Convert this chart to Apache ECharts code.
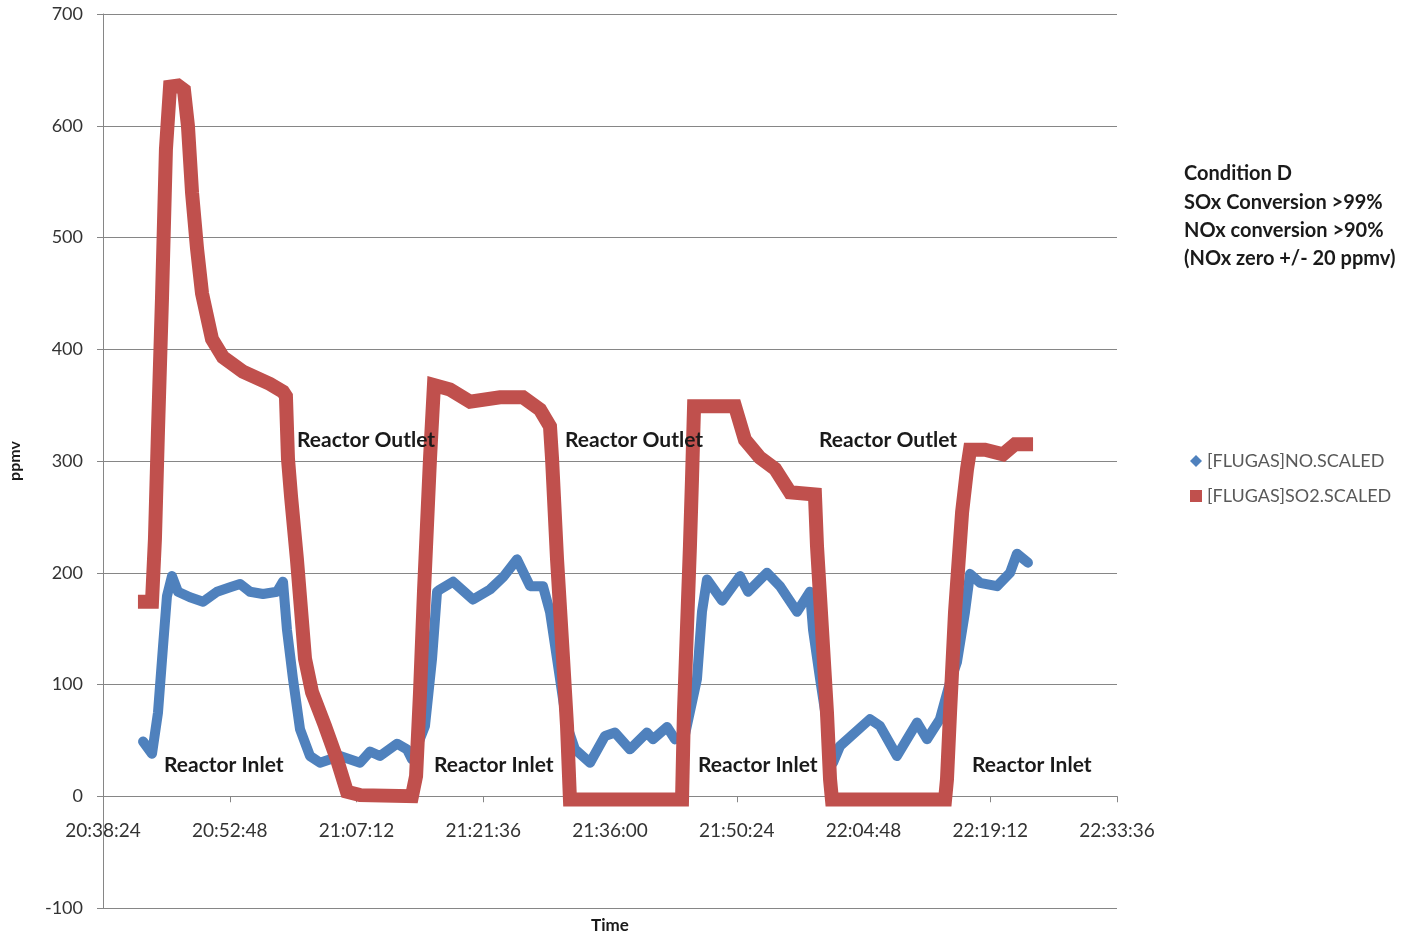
<!DOCTYPE html>
<html>
<head>
<meta charset="utf-8">
<title>Condition D – NO / SO2</title>
<script src="https://cdn.jsdelivr.net/npm/echarts@6/dist/echarts.min.js"></script>
<style>
  html, body { margin: 0; padding: 0; background: #ffffff; }
  #chart { width: 1410px; height: 935px; }
</style>
</head>
<body>
<div id="chart"></div>
<script>
// ---- data -------------------------------------------------------------
// [FLUGAS]NO.SCALED (ppmv)
const noTimes = [
  '20:42:57','20:43:58','20:44:39','20:45:13','20:45:40','20:46:14','20:46:55','20:48:17',
  '20:49:46','20:51:21','20:52:50','20:53:58','20:55:06','20:56:35','20:58:10','20:58:51',
  '20:59:18','20:59:59','21:00:47','21:01:55','21:03:03','21:05:20','21:07:36','21:08:44',
  '21:09:52','21:11:48','21:12:56','21:13:30','21:14:59','21:15:47','21:16:21','21:16:41',
  '21:18:10','21:20:26','21:22:22','21:23:51','21:25:26','21:26:55','21:28:23','21:29:11',
  '21:29:59','21:31:07','21:32:01','21:33:44','21:35:26','21:36:34','21:38:16','21:40:12',
  '21:40:53','21:42:29','21:43:23','21:44:31','21:45:53','21:46:27','21:47:01','21:48:44',
  '21:50:46','21:51:41','21:53:50','21:55:19','21:57:15','21:58:43','21:59:04','21:59:52',
  '22:01:20','22:02:08','22:05:32','22:06:40','22:08:36','22:10:53','22:12:01','22:13:29',
  '22:14:38','22:15:25','22:16:20','22:16:54','22:18:02','22:19:58','22:21:27','22:22:14',
  '22:23:29'
];
const noValues = [
  49, 38, 75, 134, 179, 197, 183, 178,
  174, 183, 187, 190, 183, 181, 183, 192,
  149, 105, 60, 36, 30, 36, 30, 40,
  36, 47, 42, 33, 63, 123, 183, 185,
  192, 176, 185, 196, 212, 188, 188, 165,
  123, 63, 42, 30, 54, 57, 42, 57,
  51, 62, 51, 55, 105, 165, 194, 175,
  197, 183, 200, 188, 165, 183, 149, 105,
  30, 45, 69, 63, 36, 66, 51, 69,
  102, 120, 165, 199, 191, 188, 200, 217,
  209
];

// [FLUGAS]SO2.SCALED (ppmv)
const so2Times = [
  '20:43:10','20:43:58','20:44:18','20:44:39','20:45:06','20:45:33','20:46:01','20:46:55',
  '20:47:36','20:48:03','20:48:31','20:49:05','20:49:39','20:50:47','20:52:02','20:54:18',
  '20:57:22','20:58:51','20:59:11','20:59:25','20:59:46','21:00:26','21:01:21','21:02:09',
  '21:03:37','21:04:59','21:06:07','21:07:36','21:13:30','21:13:58','21:14:25','21:14:52',
  '21:15:33','21:16:00','21:17:49','21:20:06','21:23:30','21:26:07','21:28:03','21:29:11',
  '21:29:25','21:29:59','21:30:40','21:31:07','21:31:27','21:44:11','21:44:24','21:45:05',
  '21:45:19','21:45:33','21:50:12','21:51:20','21:53:02','21:54:45','21:56:27','21:59:17',
  '21:59:31','22:00:12','22:00:39','22:01:00','22:01:13','22:14:04','22:14:17','22:14:38',
  '22:15:12','22:16:00','22:16:34','22:16:54','22:18:36','22:20:39','22:22:01','22:23:16'
];
const so2Values = [
  174, 174, 230, 328, 445, 579, 635, 636,
  632, 600, 540, 490, 450, 409, 393, 380,
  369, 362, 358, 302, 268, 212, 123, 93,
  63, 33, 4, 1, 0, 18, 93, 183,
  302, 368, 364, 353, 357, 357, 346, 331,
  302, 212, 123, 63, -3, -3, 75, 224,
  284, 349, 349, 319, 303, 293, 272, 270,
  224, 134, 75, 15, -3, -3, 15, 75,
  165, 254, 293, 310, 310, 306, 315, 315
];

// axis ticks: 20:38:24 to 22:33:36 every 14:24
const xTickStart = '20:38:24';
const xTickEnd = '22:33:36';
const xTickStepSeconds = 864;
const yTicks = [-100, 0, 100, 200, 300, 400, 500, 600, 700];

const noteLines = [
  'Condition D',
  'SOx Conversion >99%',
  'NOx conversion >90%',
  '(NOx zero +/- 20 ppmv)'
];

// ---- helpers ----------------------------------------------------------
function toSeconds(hms) {
  const p = hms.split(':').map(Number);
  return p[0] * 3600 + p[1] * 60 + p[2];
}
function toClock(sec) {
  const s = Math.round(sec);
  const h = Math.floor(s / 3600), m = Math.floor((s % 3600) / 60), r = s % 60;
  const pad = n => String(n).padStart(2, '0');
  return h + ':' + pad(m) + ':' + pad(r);
}
function pairs(times, values) {
  return times.map((t, i) => [toSeconds(t), values[i]]);
}

const FONT = 'Lato, "Liberation Sans", sans-serif';
const GRID_GRAY = '#868686';
const BLUE = '#4F81BD';
const RED = '#C0504D';

const GRID = { left: 103, right: 293, top: 14, bottom: 27 };
const PLOT_H = 935 - GRID.top - GRID.bottom;
// the time axis crosses the value axis at ppmv = 0
const zeroOffset = -PLOT_H * (0 - yTicks[0]) / (yTicks[yTicks.length - 1] - yTicks[0]);

const chart = echarts.init(document.getElementById('chart'), null, { renderer: 'canvas' });

const noteGraphics = noteLines.map((t, i) => ({
  type: 'text',
  x: 1184,
  y: 174 + i * 28.3,
  style: {
    text: t, fill: '#1a1a1a', font: 'bold 20px ' + FONT,
    textAlign: 'left', textVerticalAlign: 'middle'
  }
}));

const regionLabels = [
  { t: 'Reactor Outlet', x: 297, y: 440 },
  { t: 'Reactor Outlet', x: 565, y: 440 },
  { t: 'Reactor Outlet', x: 819, y: 440 },
  { t: 'Reactor Inlet', x: 164, y: 765 },
  { t: 'Reactor Inlet', x: 434, y: 765 },
  { t: 'Reactor Inlet', x: 698, y: 765 },
  { t: 'Reactor Inlet', x: 972, y: 765 }
].map(l => ({
  type: 'text',
  x: l.x,
  y: l.y,
  z: 10,
  style: {
    text: l.t, fill: '#1a1a1a', font: 'bold 21px ' + FONT,
    textAlign: 'left', textVerticalAlign: 'middle'
  }
}));

chart.setOption({
  animation: false,
  backgroundColor: '#ffffff',
  grid: Object.assign({ containLabel: false, outerBoundsMode: 'none' }, GRID),
  xAxis: {
    type: 'value',
    position: 'bottom',
    offset: zeroOffset,
    min: toSeconds(xTickStart),
    max: toSeconds(xTickEnd),
    interval: xTickStepSeconds,
    name: 'Time',
    nameLocation: 'middle',
    nameGap: 121,
    nameTextStyle: { fontFamily: FONT, fontWeight: 'bold', fontSize: 17, color: '#1a1a1a' },
    axisLine: { onZero: false, lineStyle: { color: GRID_GRAY, width: 1 } },
    axisTick: { show: true, length: 6, lineStyle: { color: GRID_GRAY } },
    axisLabel: {
      margin: 25,
      fontFamily: FONT, fontSize: 19, color: '#333333',
      formatter: v => toClock(v)
    },
    splitLine: { show: false }
  },
  yAxis: {
    type: 'value',
    min: yTicks[0],
    max: yTicks[yTicks.length - 1],
    interval: yTicks[1] - yTicks[0],
    name: 'ppmv',
    nameLocation: 'middle',
    nameGap: 80,
    nameRotate: 90,
    nameTextStyle: { fontFamily: FONT, fontWeight: 'bold', fontSize: 16, color: '#1a1a1a' },
    axisLine: { show: true, lineStyle: { color: GRID_GRAY, width: 1 } },
    axisTick: { show: true, length: 6, lineStyle: { color: GRID_GRAY } },
    axisLabel: { margin: 20, fontFamily: FONT, fontSize: 18, color: '#333333' },
    splitLine: { show: true, lineStyle: { color: GRID_GRAY, width: 1 } }
  },
  legend: {
    orient: 'vertical',
    left: 1185,
    top: 447,
    itemGap: 17,
    itemWidth: 12,
    itemHeight: 12,
    textStyle: { fontFamily: FONT, fontSize: 18, color: '#595959' },
    data: [
      { name: '[FLUGAS]NO.SCALED', icon: 'diamond' },
      { name: '[FLUGAS]SO2.SCALED', icon: 'rect' }
    ]
  },
  series: [
    {
      name: '[FLUGAS]NO.SCALED',
      type: 'line',
      data: pairs(noTimes, noValues),
      showSymbol: false,
      itemStyle: { color: BLUE },
      lineStyle: { color: BLUE, width: 10, join: 'round', cap: 'round' },
      z: 2
    },
    {
      name: '[FLUGAS]SO2.SCALED',
      type: 'line',
      data: pairs(so2Times, so2Values),
      showSymbol: false,
      itemStyle: { color: RED },
      lineStyle: { color: RED, width: 14, join: 'miter', miterLimit: 1.6, cap: 'square' },
      z: 3
    }
  ],
  graphic: noteGraphics.concat(regionLabels)
});
</script>
</body>
</html>
